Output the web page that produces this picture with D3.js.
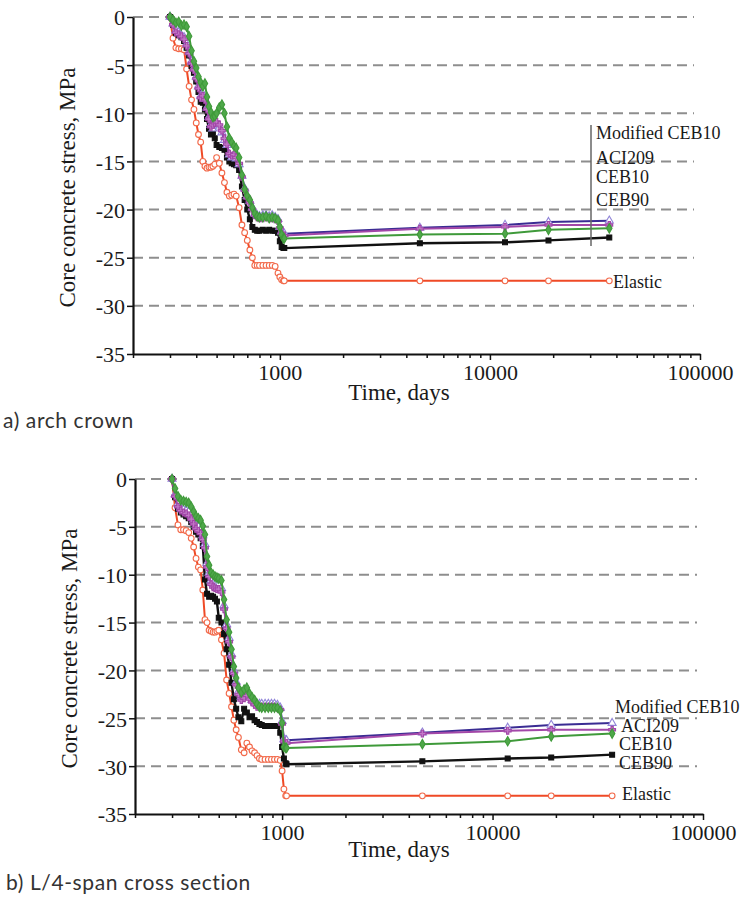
<!DOCTYPE html>
<html>
<head>
<meta charset="utf-8">
<script src="https://cdn.jsdelivr.net/npm/d3@7"></script>
<style>
body { margin: 0; background: #fff; }
svg text { font-family: "Liberation Serif", "Times New Roman", serif; fill: #1a1a1a; }
.caption { font-family: Lato, "Noto Sans", sans-serif; font-size: 21px; letter-spacing: 0.6px; fill: #333; }
</style>
</head>
<body>
<svg id="fig" width="740" height="897"></svg>
<script>

// time axis (days) shared by every curve
const days = [300, 310, 320, 330, 340, 350, 360, 370, 380, 390,
    400, 410, 420, 430, 440, 450, 460, 470, 480, 490,
    500, 515, 530, 545, 560, 575, 590, 605, 620, 640,
    660, 680, 700, 720, 740, 760, 780, 800, 830, 860,
    890, 920, 950, 980, 1000, 1020, 1040, 1050,
    4640, 11800, 19000, 37000];

const yTicks = [0, -5, -10, -15, -20, -25, -30, -35];
const xTickLabels = [1000, 10000, 100000];
const seriesNames = ["Modified CEB10", "ACI209", "CEB10", "CEB90", "Elastic"];

// a) arch crown
const crownModCEB10 = [0, -0.7, -1.4, -1.6, -1.9, -2.1, -2.8, -3.6, -4.6, -5.3,
    -6.2, -7.2, -8.2, -8.0, -8.5, -9.4, -10.4, -11.2, -11.6, -11.3,
    -11.2, -11.5, -12.0, -12.8, -13.3, -14.3, -14.6, -14.4, -14.7, -15.3,
    -16.5, -17.8, -18.6, -19.1, -19.8, -20.4, -20.6, -20.7, -20.6, -20.6,
    -20.7, -20.6, -20.8, -21.0, -21.8, -22.3, -22.5, -22.5,
    -21.9, -21.6, -21.3, -21.15];
const crownACI209 = [0, -0.8, -1.6, -1.8, -2.0, -2.3, -3.0, -3.8, -4.8, -5.5,
    -6.4, -7.4, -8.4, -8.2, -8.6, -9.6, -10.6, -11.4, -11.2, -11.0,
    -10.9, -11.2, -11.8, -12.6, -13.2, -14.2, -14.4, -14.3, -14.6, -15.2,
    -16.6, -18.0, -18.8, -19.3, -20.0, -20.6, -20.8, -20.9, -20.9, -20.8,
    -20.9, -20.9, -21.0, -21.2, -21.9, -22.5, -22.7, -22.7,
    -22.0, -21.8, -21.6, -21.6];
const crownCEB10 = [0, -0.3, -0.6, -0.5, -0.9, -0.8, -1.0, -2.0, -3.5, -4.6,
    -5.3, -6.2, -6.8, -7.2, -6.9, -8.3, -9.3, -9.9, -10.4, -10.3,
    -10.0, -9.4, -9.1, -10.0, -11.4, -12.6, -13.0, -13.4, -13.6, -14.6,
    -16.4, -17.9, -18.6, -19.0, -19.8, -20.4, -20.7, -20.8, -20.8, -20.7,
    -20.9, -20.8, -20.9, -21.1, -21.8, -22.6, -23.0, -23.0,
    -22.6, -22.5, -22.1, -21.95];
const crownCEB90 = [0, -0.8, -1.7, -1.9, -2.1, -2.5, -3.2, -4.0, -5.1, -5.8,
    -6.7, -7.8, -8.8, -8.9, -9.6, -10.6, -11.6, -12.2, -12.0, -12.6,
    -13.3, -13.5, -13.6, -13.8, -14.6, -15.0, -15.2, -15.3, -15.4, -15.9,
    -17.6, -19.0, -20.0, -21.0, -21.8, -22.1, -22.2, -22.2, -22.1, -22.2,
    -22.1, -22.2, -22.2, -22.4, -23.3, -23.9, -24.0, -24.0,
    -23.5, -23.4, -23.2, -22.9];
const crownElastic = [0, -2.2, -3.2, -3.3, -3.3, -3.4, -5.4, -7.2, -8.6, -9.6,
    -11.0, -12.2, -13.0, -15.0, -15.5, -15.7, -15.6, -15.6, -15.5, -15.3,
    -14.6, -15.2, -16.2, -17.2, -18.2, -18.6, -18.5, -18.4, -18.6, -19.8,
    -21.6, -22.4, -23.2, -24.2, -25.0, -25.8, -25.8, -25.8, -25.8, -25.8,
    -25.8, -25.8, -25.9, -26.6, -27.0, -27.3, -27.4, -27.4,
    -27.4, -27.4, -27.4, -27.4];

// b) L/4-span cross section
const spanModCEB10 = [0, -1.6, -2.6, -3.0, -3.2, -3.3, -3.4, -3.8, -4.3, -4.8,
    -5.0, -5.3, -5.9, -6.8, -8.8, -9.8, -10.6, -10.9, -11.0, -11.1,
    -11.1, -11.4, -13.2, -15.2, -16.6, -18.3, -20.0, -21.2, -22.2, -22.8,
    -22.6, -22.3, -22.8, -23.1, -23.3, -23.5, -23.5, -23.5, -23.5, -23.5,
    -23.5, -23.5, -23.6, -23.9, -25.3, -27.2, -27.3, -27.3,
    -26.5, -26.0, -25.7, -25.5];
const spanACI209 = [0, -1.8, -2.9, -3.3, -3.5, -3.6, -3.8, -4.2, -4.7, -5.2,
    -5.4, -5.7, -6.3, -7.2, -9.2, -10.2, -11.0, -11.3, -11.4, -11.5,
    -11.5, -11.8, -13.6, -15.6, -17.0, -18.6, -20.3, -21.5, -22.5, -23.1,
    -22.9, -22.6, -23.0, -23.3, -23.6, -23.8, -23.8, -23.8, -23.8, -23.8,
    -23.8, -23.8, -23.9, -24.1, -25.6, -27.4, -27.6, -27.6,
    -26.6, -26.3, -26.2, -26.2];
const spanCEB10 = [0, -1.0, -1.8, -2.2, -2.3, -2.4, -2.5, -2.9, -3.4, -3.9,
    -4.1, -4.3, -4.9, -5.8, -8.1, -9.0, -9.8, -10.0, -10.2, -10.3,
    -10.4, -10.6, -12.6, -14.7, -16.0, -17.8, -19.6, -20.8, -21.8, -22.3,
    -22.0, -21.8, -22.4, -22.8, -23.1, -23.5, -23.8, -23.9, -23.9, -23.9,
    -23.9, -23.9, -23.9, -24.2, -25.5, -28.0, -28.1, -28.1,
    -27.7, -27.4, -26.9, -26.6];
const spanCEB90 = [0, -1.9, -3.1, -3.5, -3.7, -3.9, -4.1, -4.5, -5.0, -5.5,
    -5.8, -6.2, -7.0, -10.5, -12.0, -12.3, -12.2, -12.3, -12.5, -12.8,
    -14.5, -15.0, -16.2, -17.8, -19.4, -21.3, -23.0, -24.0, -24.9, -25.3,
    -24.0, -24.4, -24.9, -24.8, -25.2, -25.4, -25.6, -25.7, -25.8, -25.8,
    -25.8, -25.8, -25.8, -26.5, -28.0, -29.2, -29.7, -29.8,
    -29.5, -29.2, -29.1, -28.8];
const spanElastic = [0, -3.0, -4.8, -5.3, -5.3, -5.4, -5.6, -6.2, -7.1, -8.3,
    -9.2, -9.5, -11.6, -14.7, -15.0, -15.8, -15.9, -16.0, -16.0, -15.9,
    -15.8, -16.8, -18.2, -21.0, -22.4, -23.8, -25.2, -26.2, -27.0, -28.3,
    -28.6, -27.6, -28.0, -28.4, -28.6, -28.9, -29.2, -29.3, -29.3, -29.3,
    -29.3, -29.3, -29.3, -29.4, -30.5, -32.4, -33.1, -33.1,
    -33.1, -33.1, -33.1, -33.1];


function StressChart(svg, opts) {
    var self = this;
    self.svg = svg;
    self.opts = opts;
    self.initVis();
}

StressChart.prototype.initVis = function () {
    var self = this;
    var o = self.opts;

    self.g = self.svg.append("g");

    self.x = d3.scaleLog().domain([200, 100000]).range([o.left, o.right]);
    self.y = d3.scaleLinear().domain([0, -35]).range([o.top, o.bottom]);

    //dashed grid lines
    self.g.selectAll(".grid")
        .data(yTicks.filter(d => d > -35))
        .join("line")
        .attr("class", "grid")
        .attr("x1", o.left)
        .attr("x2", o.right - 6)
        .attr("y1", d => self.y(d))
        .attr("y2", d => self.y(d))
        .attr("stroke", "#8e8e8e")
        .attr("stroke-width", 2)
        .attr("stroke-dasharray", "10,6");

    //y axis
    var yAxis = self.g.append("g")
        .attr("transform", `translate(${o.left},0)`)
        .call(d3.axisLeft(self.y).tickValues(yTicks).tickFormat(d => String(d)).tickSize(6).tickSizeOuter(0).tickPadding(2));

    //x axis, minor ticks come from the log scale itself
    var xTicks = self.x.ticks().filter(d => d >= 200);
    var xAxis = self.g.append("g")
        .attr("transform", `translate(0,${o.bottom})`)
        .call(d3.axisBottom(self.x).tickValues(xTicks)
            .tickFormat(d => xTickLabels.indexOf(d) >= 0 ? String(d) : "")
            .tickSize(4).tickSizeOuter(0).tickPadding(6));
    xAxis.selectAll(".tick line")
        .attr("y2", d => xTickLabels.indexOf(d) >= 0 ? 6 : 4);

    [yAxis, xAxis].forEach(function (ax) {
        ax.select(".domain").attr("stroke", "#111").attr("stroke-width", 2.2);
        ax.selectAll(".tick line").attr("stroke", "#111").attr("stroke-width", 1.5);
        ax.selectAll("text")
            .style("font-family", '"Liberation Serif", serif')
            .style("font-size", "22px")
            .attr("fill", "#1a1a1a");
    });
    yAxis.selectAll("text").attr("dy", "0.36em");

    //axis titles
    self.g.append("text")
        .attr("transform", `translate(${o.left - 58},${(o.top + o.bottom) / 2 + 2}) rotate(-90)`)
        .attr("text-anchor", "middle")
        .style("font-size", "23px")
        .text("Core concrete stress, MPa");

    self.g.append("text")
        .attr("x", 399)
        .attr("y", o.titleY)
        .attr("text-anchor", "middle")
        .style("font-size", "23px")
        .text("Time, days");

    //curves
    var line = d3.line().x(d => self.x(d[0])).y(d => self.y(d[1]));

    o.series.forEach(function (s) {
        var pts = d3.zip(days, s.values);
        var sg = self.g.append("g");
        sg.append("path")
            .datum(pts)
            .attr("fill", "none")
            .attr("stroke", s.color)
            .attr("stroke-width", s.width)
            .attr("stroke-linejoin", "round")
            .attr("d", line);

        sg.selectAll("path.mark")
            .data(pts)
            .join("path")
            .attr("class", "mark")
            .attr("transform", d => `translate(${self.x(d[0])},${self.y(d[1])})`)
            .attr("d", d3.symbol().type(s.symbol).size(s.size))
            .attr("fill", s.fill)
            .attr("stroke", s.markStroke)
            .attr("stroke-width", 1.1);
    });

    //labels
    if (o.legendBar) {
        self.g.append("line")
            .attr("x1", o.legendBar.x).attr("x2", o.legendBar.x)
            .attr("y1", o.legendBar.y1).attr("y2", o.legendBar.y2)
            .attr("stroke", "#666")
            .attr("stroke-width", 1.5);
    }
    self.g.selectAll(".lab")
        .data(o.labels)
        .join("text")
        .attr("class", "lab")
        .attr("x", d => d.x)
        .attr("y", d => d.y)
        .style("font-size", "18px")
        .text(d => d.name);

    self.svg.append("text")
        .attr("class", "caption")
        .attr("x", o.captionX)
        .attr("y", o.captionY)
        .text(o.caption);
};

function styles(vals) {
    // draw order: red, black, blue, magenta, green (green ends on top like the figure)
    return [
        { values: vals[4], color: "#ef4a26", width: 2, symbol: d3.symbolCircle, size: 26, fill: "#fff", markStroke: "#f2694a" },
        { values: vals[3], color: "#111", width: 2.4, symbol: d3.symbolSquare, size: 24, fill: "#111", markStroke: "#111" },
        { values: vals[0], color: "#3a2c93", width: 2, symbol: d3.symbolTriangle, size: 28, fill: "#fff", markStroke: "#9084d8" },
        { values: vals[1], color: "#a247a8", width: 2, symbol: d3.symbolCross, size: 26, fill: "#c27ac8", markStroke: "#a247a8" },
        { values: vals[2], color: "#3f9a3a", width: 2, symbol: d3.symbolDiamond, size: 26, fill: "#4fa84a", markStroke: "#3f9a3a" }
    ];
}

var svg = d3.select("#fig");

new StressChart(svg, {
    left: 133, right: 700, top: 17, bottom: 354,
    titleY: 400,
    series: styles([crownModCEB10, crownACI209, crownCEB10, crownCEB90, crownElastic]),
    legendBar: { x: 591, y1: 125, y2: 246 },
    labels: [
        { name: seriesNames[0], x: 596, y: 139 },
        { name: seriesNames[1], x: 596, y: 164 },
        { name: seriesNames[2], x: 596, y: 183 },
        { name: seriesNames[3], x: 596, y: 206 },
        { name: seriesNames[4], x: 613, y: 288 }
    ],
    caption: "a) arch crown",
    captionX: 3,
    captionY: 428
});

new StressChart(svg, {
    left: 135, right: 703, top: 479, bottom: 814,
    titleY: 857,
    series: styles([spanModCEB10, spanACI209, spanCEB10, spanCEB90, spanElastic]),
    legendBar: null,
    labels: [
        { name: seriesNames[0], x: 615, y: 713 },
        { name: seriesNames[1], x: 621, y: 732 },
        { name: seriesNames[2], x: 619, y: 750 },
        { name: seriesNames[3], x: 619, y: 769 },
        { name: seriesNames[4], x: 622, y: 800 }
    ],
    caption: "b) L/4-span cross section",
    captionX: 6,
    captionY: 890
});

</script>
</body>
</html>
